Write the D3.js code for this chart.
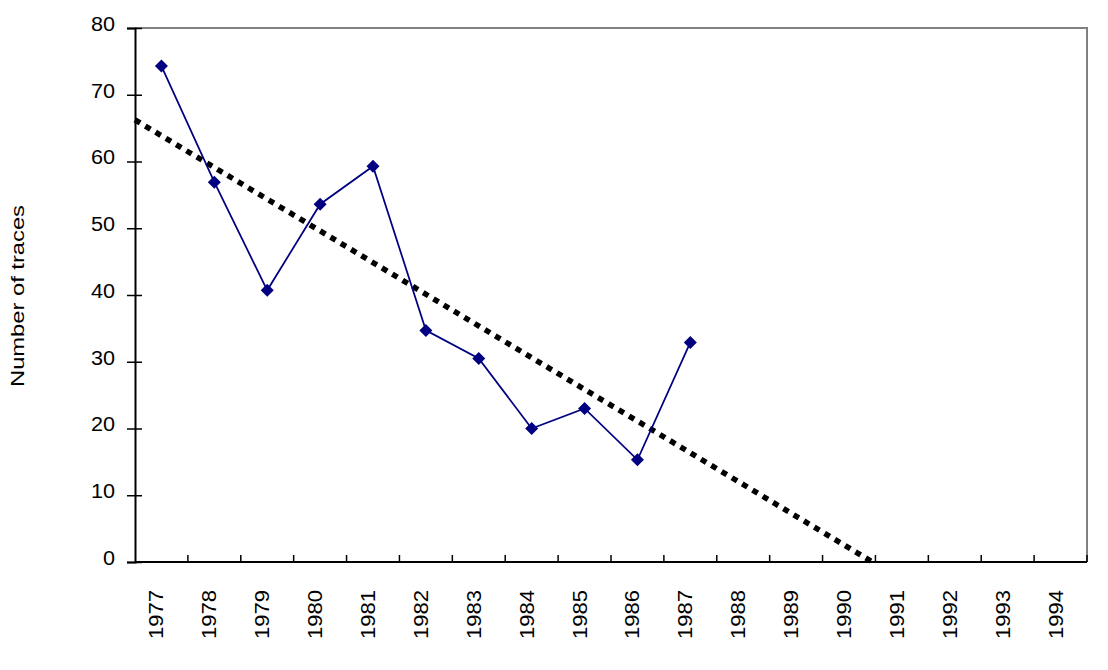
<!DOCTYPE html>
<html><head><meta charset="utf-8">
<script src="https://cdn.jsdelivr.net/npm/d3@7"></script>
<style>body{margin:0;background:#fff}svg{display:block}text{font-family:"Liberation Sans",Arial,sans-serif}</style>
</head><body>
<svg id="c" width="1108" height="670"></svg>
<script>
const categories = ["1977","1978","1979","1980","1981","1982","1983","1984","1985","1986","1987","1988","1989","1990","1991","1992","1993","1994"];
const values = [74.3,56.9,40.7,53.6,59.3,34.7,30.5,20.0,23.0,15.3,32.9];
const yTicks = [0,10,20,30,40,50,60,70,80];
const yTitle = "Number of traces";

const svg = d3.select("#c");
const L=135,R=1087,T=28,B=562;
const x = d3.scaleBand().domain(categories).range([L,R]);
const y = d3.scaleLinear().domain([0,80]).range([B,T]);

// plot border top/right gray
svg.append("path").attr("d",`M${L},${T}H${R}V${B}`).attr("fill","none").attr("stroke","#808080").attr("stroke-width",2);

// y axis
const ya = svg.append("g").attr("transform",`translate(${L},0)`)
  .call(d3.axisLeft(y).tickValues(yTicks).tickSize(8).tickPadding(12));
ya.select(".domain").attr("stroke","#000").attr("stroke-width",2);
ya.selectAll(".tick line").attr("stroke","#000").attr("stroke-width",1.5).attr("x2",-8).attr("x1",7);
ya.selectAll(".tick text").attr("font-size",20).attr("fill","#000").attr("x",-20).attr("y",-4)
  .attr("font-family","Liberation Sans, Arial, sans-serif")
  .attr("textLength",function(d){return String(d).length*12;}).attr("lengthAdjust","spacingAndGlyphs");

// x axis: ticks at band boundaries, pointing inside
const xa = svg.append("g").attr("transform",`translate(0,${B})`);
xa.append("line").attr("x1",L).attr("x2",R).attr("stroke","#000").attr("stroke-width",2);
const bounds = categories.map(c=>x(c)).concat([R]).slice(1);
xa.selectAll("line.tk").data(bounds).join("line").attr("class","tk")
  .attr("x1",d=>d).attr("x2",d=>d).attr("y1",0).attr("y2",-7).attr("stroke","#000").attr("stroke-width",1.5);
xa.selectAll("text").data(categories).join("text")
  .attr("transform",d=>`translate(${x(d)+x.bandwidth()/2+2},28) rotate(-90)`)
  .attr("text-anchor","end").attr("font-size",20).attr("fill","#000")
  .attr("textLength",49).attr("lengthAdjust","spacingAndGlyphs").text(d=>d);

// y title
svg.append("text").attr("transform","translate(24,296) rotate(-90)").attr("text-anchor","middle")
  .attr("font-size",19).attr("textLength",182).attr("lengthAdjust","spacingAndGlyphs").text(yTitle);

// trendline (least squares fit of series, forecast to 0)
const xs=values.map((v,i)=>i+1);
const mx=d3.mean(xs), my=d3.mean(values);
const slope=d3.sum(xs,(xi,i)=>(xi-mx)*(values[i]-my))/d3.sum(xs,xi=>(xi-mx)**2);
const icpt=my-slope*mx;
const xPix = xi => L + (xi-0.5)*x.bandwidth();
const x0=0.5, x1=-icpt/slope;
svg.append("line").attr("x1",xPix(x0)).attr("y1",y(icpt+slope*x0)).attr("x2",xPix(x1)).attr("y2",y(0))
  .attr("stroke","#000").attr("stroke-width",5.5).attr("stroke-dasharray","6,6");

// series line
const pts = values.map((v,i)=>[x(categories[i])+x.bandwidth()/2, y(v)]);
svg.append("path").attr("d",d3.line()(pts)).attr("fill","none").attr("stroke","#000080").attr("stroke-width",1.75);
svg.selectAll("path.m").data(pts).join("path").attr("class","m")
  .attr("d",d=>`M${d[0]},${d[1]-6.5}L${d[0]+6.5},${d[1]}L${d[0]},${d[1]+6.5}L${d[0]-6.5},${d[1]}Z`)
  .attr("fill","#000080");
</script>
</body></html>
